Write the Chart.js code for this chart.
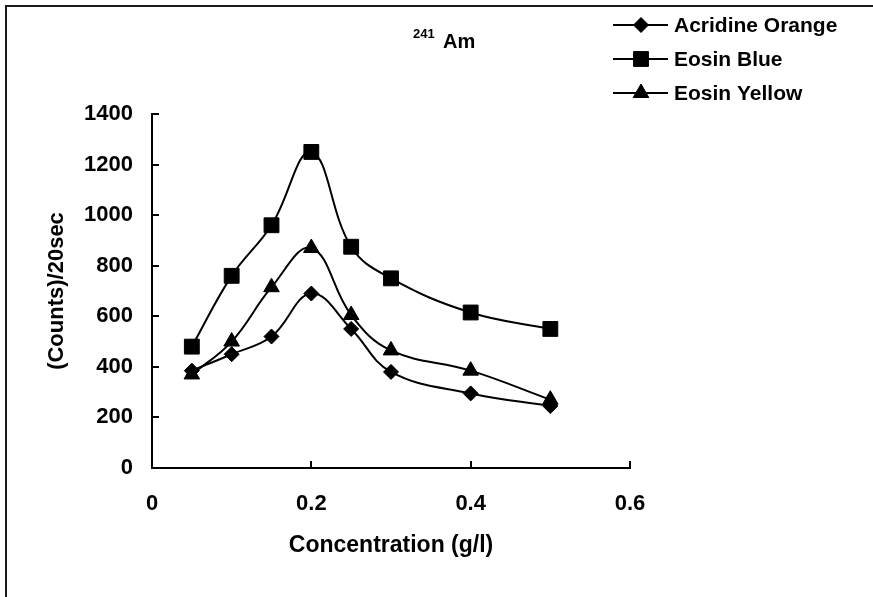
<!DOCTYPE html>
<html><head><meta charset="utf-8">
<script src="https://cdn.jsdelivr.net/npm/chart.js@4/dist/chart.umd.min.js"></script>
<style>html,body{margin:0;padding:0;background:#fff;} canvas{display:block;}</style>
</head><body>
<canvas id="c" width="873" height="597"></canvas>
<script>
const concentrations = [0.05, 0.1, 0.15, 0.2, 0.25, 0.3, 0.4, 0.5];
const acridineOrange = [385, 450, 520, 690, 550, 380, 295, 245];
const eosinBlue = [480, 760, 960, 1250, 875, 750, 615, 550];
const eosinYellow = [370, 500, 715, 870, 605, 465, 385, 270];
const seriesNames = ['Acridine Orange', 'Eosin Blue', 'Eosin Yellow'];
const xTickLabels = ['0', '0.2', '0.4', '0.6'];
const yTickLabels = ['0', '200', '400', '600', '800', '1000', '1200', '1400'];
const titleSup = '241';
const titleMain = 'Am';
const xTitle = 'Concentration (g/l)';
const yTitle = '(Counts)/20sec';

const F = '"Liberation Sans", Arial, Helvetica, sans-serif';

function pts(vals) { return concentrations.map((x, i) => ({ x: x, y: vals[i] })); }

function drawMarker(ctx, style, r, x, y) {
  if (Chart.helpers && Chart.helpers.drawPoint) {
    Chart.helpers.drawPoint(ctx, { pointStyle: style, radius: r, borderWidth: 1, rotation: 0 }, x, y);
    return;
  }
  ctx.beginPath();
  if (style === 'rect') { const s = Math.SQRT1_2 * r; ctx.rect(x - s, y - s, 2 * s, 2 * s); }
  else if (style === 'rectRot') { ctx.moveTo(x - r, y); ctx.lineTo(x, y - r); ctx.lineTo(x + r, y); ctx.lineTo(x, y + r); ctx.closePath(); }
  else { ctx.moveTo(x, y - r); ctx.lineTo(x + r * 0.866, y + r / 2); ctx.lineTo(x - r * 0.866, y + r / 2); ctx.closePath(); }
  ctx.fill(); ctx.stroke();
}

const decor = {
  id: 'decor',
  beforeDraw(chart) {
    const ctx = chart.ctx;
    ctx.save();
    ctx.fillStyle = '#fff';
    ctx.fillRect(0, 0, chart.width, chart.height);
    ctx.strokeStyle = '#1a1a1a';
    ctx.lineWidth = 2;
    ctx.beginPath();
    ctx.moveTo(6, chart.height);
    ctx.lineTo(6, 6);
    ctx.lineTo(chart.width, 6);
    ctx.stroke();
    ctx.restore();
  },
  afterDraw(chart) {
    const ctx = chart.ctx;
    const xs = chart.scales.x, ys = chart.scales.y, a = chart.chartArea;
    ctx.save();
    ctx.strokeStyle = '#000';
    ctx.lineWidth = 2;
    ctx.beginPath();
    xs.ticks.forEach(t => { const p = Math.round(xs.getPixelForValue(t.value)); ctx.moveTo(p, a.bottom); ctx.lineTo(p, a.bottom - 7); });
    ys.ticks.forEach(t => { const p = Math.round(ys.getPixelForValue(t.value)); ctx.moveTo(a.left, p); ctx.lineTo(a.left + 7, p); });
    ctx.stroke();

    // title
    ctx.fillStyle = '#000';
    ctx.textBaseline = 'alphabetic';
    ctx.textAlign = 'left';
    ctx.font = 'bold 13px ' + F;
    ctx.fillText(titleSup, 413, 38);
    ctx.font = 'bold 20px ' + F;
    ctx.fillText(titleMain, 443, 48);

    // legend
    chart.data.datasets.forEach((ds, i) => {
      const y = 25 + 34 * i;
      ctx.strokeStyle = '#000';
      ctx.fillStyle = '#000';
      ctx.lineWidth = 2;
      ctx.beginPath();
      ctx.moveTo(613, y);
      ctx.lineTo(668, y);
      ctx.stroke();
      ctx.lineWidth = 1;
      drawMarker(ctx, ds.pointStyle, ds.pointRadius, 641, y);
      ctx.font = 'bold 21px ' + F;
      ctx.fillText(ds.label, 674, y + 7);
    });
    ctx.restore();
  }
};

const common = { borderColor: '#000', backgroundColor: '#000', pointBackgroundColor: '#000', pointBorderColor: '#000', borderWidth: 2, pointBorderWidth: 1, tension: 0.4, fill: false };

new Chart(document.getElementById('c'), {
  type: 'line',
  data: {
    datasets: [
      Object.assign({ label: seriesNames[0], data: pts(acridineOrange), pointStyle: 'rectRot', pointRadius: 7.5 }, common),
      Object.assign({ label: seriesNames[1], data: pts(eosinBlue), pointStyle: 'rect', pointRadius: 10.5 }, common),
      Object.assign({ label: seriesNames[2], data: pts(eosinYellow), pointStyle: 'triangle', pointRadius: 9 }, common)
    ]
  },
  options: {
    responsive: false,
    animation: false,
    devicePixelRatio: 1,
    layout: { padding: { left: 40, right: 243, top: 114, bottom: 29 } },
    plugins: { legend: { display: false }, tooltip: { enabled: false }, title: { display: false } },
    scales: {
      x: {
        type: 'linear', min: 0, max: 0.6,
        afterFit(s) { s.height = 100; },
        ticks: { stepSize: 0.2, padding: 23, color: '#000', autoSkip: false, maxRotation: 0,
          font: { family: F, size: 22, weight: 'bold' },
          callback: (v, i) => xTickLabels[i] },
        grid: { display: true, drawOnChartArea: false, drawTicks: false },
        border: { display: true, color: '#000', width: 2 },
        title: { display: true, text: xTitle, color: '#000', font: { family: F, size: 23, weight: 'bold' }, padding: { top: 0, bottom: 9 } }
      },
      y: {
        type: 'linear', min: 0, max: 1400,
        afterFit(s) { s.width = 112; },
        ticks: { stepSize: 200, padding: 19, color: '#000', autoSkip: false,
          font: { family: F, size: 22, weight: 'bold' },
          callback: (v, i) => yTickLabels[i] },
        grid: { display: true, drawOnChartArea: false, drawTicks: false },
        border: { display: true, color: '#000', width: 2 },
        title: { display: true, text: yTitle, color: '#000', font: { family: F, size: 22, weight: 'bold' }, padding: { top: 4, bottom: 0 } }
      }
    }
  },
  plugins: [decor]
});
</script>
</body></html>
